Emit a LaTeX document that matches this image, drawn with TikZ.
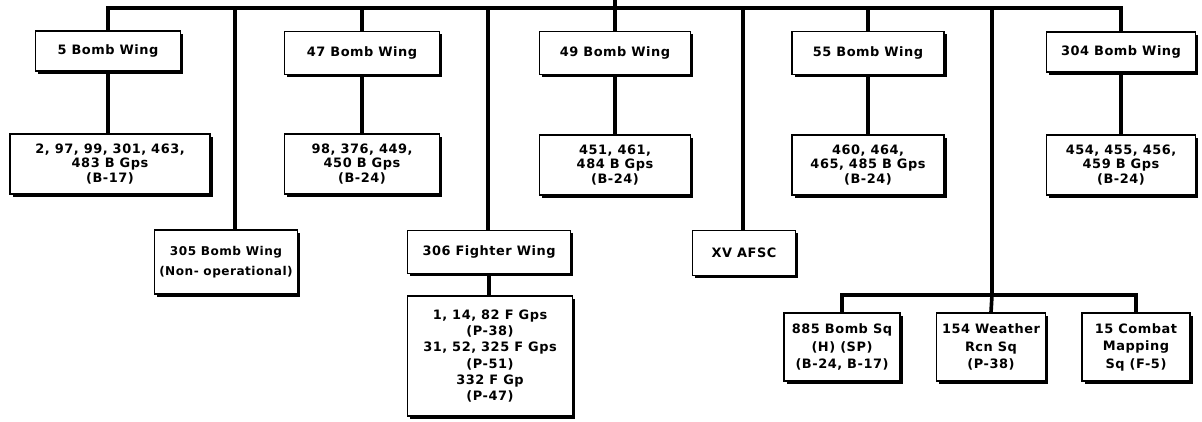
\documentclass[tikz,border=0pt]{standalone}
\usepackage{fontspec}
\setmainfont{DejaVu Sans}[LetterSpace=4]
\usepackage{tikz}
\usetikzlibrary{shadows}

\begin{document}
\begin{tikzpicture}[x=0.025cm, y=-0.025cm,
  unit/.style={draw, line width=1pt, fill=white, align=center, inner sep=1pt,
    font=\fontsize{9.2}{10}\selectfont\bfseries,
    drop shadow={shadow xshift=2pt, shadow yshift=-2pt, fill=black, opacity=1}},
  boxsize/.style 2 args={minimum width=#1*0.025cm, minimum height=#2*0.025cm},
  link/.style={line width=2.6pt}]
  \useasboundingbox (0,0) rectangle (1202,421);

  % wings
  \node[unit, boxsize={145}{40}] (w5) at (108,51) {5 Bomb Wing};
  \node[unit, boxsize={155}{43}] (w47) at (362,53) {47 Bomb Wing};
  \node[unit, boxsize={151}{43}] (w49) at (615,53) {49 Bomb Wing};
  \node[unit, boxsize={152}{43}] (w55) at (868,53) {55 Bomb Wing};
  \node[unit, boxsize={149}{40}] (w304) at (1121,52) {304 Bomb Wing};

  % groups
  \node[unit, boxsize={200}{60}] (g5) at (110,164) {2, 97, 99, 301, 463,\\483 B Gps\\(B-17)};
  \node[unit, boxsize={155}{60}] (g47) at (362,164) {98, 376, 449,\\450 B Gps\\(B-24)};
  \node[unit, boxsize={151}{60}] (g49) at (615,165) {451, 461,\\484 B Gps\\(B-24)};
  \node[unit, boxsize={152}{60}] (g55) at (868,165) {460, 464,\\465, 485 B Gps\\(B-24)};
  \node[unit, boxsize={149}{60}] (g304) at (1121,165) {454, 455, 456,\\459 B Gps\\(B-24)};

  \node[unit, boxsize={143}{64}, font=\fontsize{8.6}{14}\selectfont\bfseries] (w305) at (226,262)
    {305 Bomb Wing\\(Non- operational)};
  \node[unit, boxsize={163}{43}] (w306) at (489,252) {306 Fighter Wing};
  \node[unit, boxsize={165}{120}, font=\fontsize{9.2}{11.6}\selectfont\bfseries] (g306) at (490,356)
    {1, 14, 82 F Gps\\(P-38)\\31, 52, 325 F Gps\\(P-51)\\332 F Gp\\(P-47)};
  \node[unit, boxsize={103}{45}] (xv) at (744,253) {XV AFSC};

  % squadrons
  \tikzset{sqfont/.style={font=\fontsize{9.2}{12.4}\selectfont\bfseries}}
  \node[unit, sqfont, boxsize={116}{68}] (sq885) at (842,347) {885 Bomb Sq\\(H) (SP)\\(B-24, B-17)};
  \node[unit, sqfont, boxsize={109}{68}] (sq154) at (991,347) {154 Weather\\Rcn Sq\\(P-38)};
  \node[unit, sqfont, boxsize={108}{68}] (sq15) at (1136,347) {15 Combat\\Mapping\\Sq (F-5)};

  % buses
  \coordinate (top) at (615,-2);
  \coordinate (bus) at (615,8);
  \coordinate (sqbus) at (992,295);
  \coordinate (d305) at (235,8);
  \coordinate (d306) at (488,8);
  \coordinate (dxv) at (743,8);
  \coordinate (dsq) at (992,8);

  \draw[link] (top) -- (bus);
  \draw[link] (w5.north) -- (w5.north |- bus) -- (w304.north |- bus) -- (w304.north);
  \foreach \w/\g in {w5/g5, w47/g47, w49/g49, w55/g55, w304/g304}
    \draw[link] (\w.south) -- (\w.south |- \g.north);
  \draw[link] (w47.north) -- (w47.north |- bus);
  \draw[link] (w49.north) -- (bus);
  \draw[link] (w55.north) -- (w55.north |- bus);
  \draw[link] (d305) -- (d305 |- w305.north);
  \draw[link] (d306) -- (d306 |- w306.north);
  \draw[link] (w306.south) -- (w306.south |- g306.north);
  \draw[link] (dxv) -- (dxv |- xv.north);
  \draw[link] (dsq) -- (sqbus);
  \draw[link] (sq885.north) -- (sq885.north |- sqbus) -- (sq15.north |- sqbus) -- (sq15.north);
  \draw[link] (sqbus) -- (sq154.north);
\end{tikzpicture}
\end{document}
